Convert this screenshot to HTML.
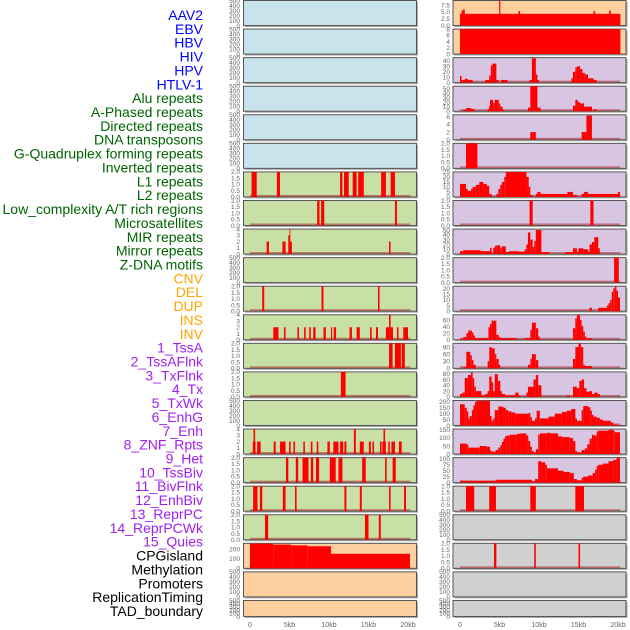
<!DOCTYPE html>
<html><head><meta charset="utf-8"><style>
html,body{margin:0;padding:0;background:#fff;}
svg{display:block;font-family:"Liberation Sans",sans-serif;}
</style></head><body>
<svg id="chart" width="630" height="630" viewBox="0 0 630 630"></svg>
<script>
const trackLabels = ["AAV2","EBV","HBV","HIV","HPV","HTLV-1","Alu repeats","A-Phased repeats","Directed repeats","DNA transposons","G-Quadruplex forming repeats","Inverted repeats","L1 repeats","L2 repeats","Low_complexity A/T rich regions","Microsatellites","MIR repeats","Mirror repeats","Z-DNA motifs","CNV","DEL","DUP","INS","INV","1_TssA","2_TssAFlnk","3_TxFlnk","4_Tx","5_TxWk","6_EnhG","7_Enh","8_ZNF_Rpts","9_Het","10_TssBiv","11_BivFlnk","12_EnhBiv","13_ReprPC","14_ReprPCWk","15_Quies","CPGisland","Methylation","Promoters","ReplicationTiming","TAD_boundary"];
const labelColors = ["#0000ff","#006400","#ffa500","#a020f0","#000000"];
const labelGroupCounts = [6,13,5,15,5];
const xTickValues = [0,5,10,15,20];
const xTickLabels = ["0","5kb","10kb","15kb","20kb"];
const emptyTicks = [0,100,200,300,400,500];
const binTicks = [0,0.5,1,1.5,2];
const tick4 = [0,1,2,3,4];

const L6 = [[0.2,0.85,2],[3.4,3.8,2],[11.4,11.7,2],[11.9,12.5,2],[13.0,13.5,2],[13.7,14.4,2],[16.6,17.2,2],[17.8,18.35,2]];
const L7 = [[8.5,8.8,2],[9.0,9.4,2],[18.35,18.6,2]];
const L8 = [[2.1,2.4,2],[4.1,4.5,2],[5.0,5.3,2],[4.85,5.0,3],[5.0,5.1,4],[17.6,17.8,2]];
const L10 = [[1.55,1.8,2],[9.05,9.3,2],[16.2,16.4,2]];
const L11 = [[2.95,3.6,2],[4.3,4.5,2],[6.0,6.2,2],[6.85,7.05,2],[7.5,7.7,2],[8.0,8.3,2],[9.3,9.6,2],[10.25,10.4,2],[10.6,10.9,2],[12.6,12.9,2],[13.5,13.9,2],[15.2,15.4,2],[15.95,16.2,2],[17.2,17.6,2],[17.6,17.8,4],[17.8,18.1,2],[18.6,18.8,2],[19.4,20.0,2]];
const L12 = [[17.6,18.05,2],[18.35,19.1,2],[19.2,19.6,2]];
const L13 = [[11.5,12.1,2]];
const L15 = [[0.35,0.7,2],[0.45,0.65,4],[0.9,1.35,2],[3.0,3.25,2],[3.8,4.5,2],[4.95,5.15,2],[5.5,5.7,2],[6.75,6.95,2],[7.7,7.9,2],[8.45,8.65,2],[9.8,10.1,2],[10.55,11.2,2],[11.4,11.8,2],[11.95,12.2,2],[13.15,13.4,4],[13.9,14.4,2],[15.05,15.3,2],[15.5,15.7,2],[16.45,16.65,2],[16.75,17.2,2],[16.9,17.1,4],[17.5,17.7,2],[17.9,18.35,2],[18.85,19.2,2]];
const L16 = [[4.55,4.85,2],[5.8,6.1,2],[6.65,7.4,2],[7.7,8.0,2],[8.35,8.75,2],[10.1,10.85,2],[11.2,11.7,2],[14.2,14.65,2],[17.1,17.3,2],[18.05,18.45,2]];
const L17 = [[0.4,0.95,2],[1.25,1.55,2],[4.15,4.5,2],[5.7,5.9,2],[11.95,12.2,2],[13.9,14.15,2],[17.6,17.8,2],[19.5,19.75,2]];
const L18 = [[1.9,2.3,2],[14.55,15.0,2],[16.3,16.55,2]];
const L19 = [[0,2.95,255],[2.95,5.2,245],[5.2,7.3,237],[7.3,10.25,228],[10.25,20.25,150]];

const R0 = [[0,20.3,4.3],[0.2,0.4,5.5],[0.4,0.6,6.0],[4.95,5.1,9.2],[7.4,7.6,5.3],[16.9,17.1,5.3],[18.9,19.1,5.5]];
const R1 = [[0,20.3,8]];
const R2 = [[0,0.2,12],[0.2,0.6,5],[0.6,1.0,7],[1.0,1.6,5],[3.2,3.7,5],[3.7,3.9,13],[3.9,4.1,32],[4.1,4.6,35],[4.6,4.9,5],[5.2,6.0,5],[8.8,9.1,5],[9.1,9.6,45],[9.6,9.8,15],[9.8,10.0,5],[14.1,14.3,8],[14.3,14.6,20],[14.6,14.8,28],[14.8,15.2,30],[15.2,15.5,25],[15.5,15.8,18],[15.8,16.2,15],[16.2,16.9,8],[16.9,17.3,5]];
const R3 = [[0.4,0.8,3],[0.8,1.4,7],[1.4,1.8,5],[3.5,3.7,5],[3.7,3.8,12],[3.8,4.2,25],[4.2,4.4,18],[4.4,4.9,25],[4.9,5.1,17],[5.1,5.4,10],[5.4,5.6,3],[8.6,8.9,8],[8.9,9.8,55],[9.8,10.2,8],[14.3,14.6,12],[14.6,14.9,25],[14.9,15.2,20],[15.2,15.7,17],[15.7,16.7,10],[16.9,17.3,4]];
const R4 = [[8.9,9.6,2],[15.4,16.0,2],[16.0,16.7,6.3]];
const R5 = [[0.76,2.2,2]];
const R6 = [[0,0.76,13],[0.76,0.97,8],[0.97,1.4,6],[1.4,1.6,8],[1.6,2.0,10],[2.0,2.45,12],[2.45,2.95,15],[2.95,3.4,13],[3.4,3.7,11],[3.7,4.0,3],[4.6,4.85,3],[4.85,5.1,8],[5.1,5.3,12],[5.3,5.6,15],[5.6,5.8,20],[5.8,8.4,25],[8.4,8.7,20],[8.7,8.9,10],[8.9,9.2,2],[9.6,9.8,3],[9.8,10.2,5],[10.2,13.6,3],[13.6,14.3,5],[14.3,14.8,2],[15.4,15.7,3],[15.7,16.2,5],[16.2,20.0,3],[20.0,20.25,5]];
const R7 = [[8.8,9.2,2],[16.5,16.9,2]];
const R8 = [[0,0.4,6],[0.4,2.6,8],[2.6,3.8,6],[3.8,4.0,13],[4.2,4.4,13],[4.4,4.6,17],[4.6,5.1,18],[5.1,5.3,12],[5.3,5.8,16],[5.8,6.2,4],[6.2,7.4,6],[7.4,8.2,5],[8.2,8.4,10],[8.4,8.6,20],[8.6,8.9,45],[8.9,9.2,30],[9.2,9.4,15],[9.4,9.6,27],[9.6,10.3,50],[10.3,11.3,4],[13.3,14.3,4],[14.3,14.8,12],[14.8,15.0,5],[15.0,15.6,12],[15.6,16.2,10],[16.2,16.4,5],[16.4,16.7,20],[16.7,17.0,25],[17.0,17.5,35],[17.5,17.7,12]];
const R9 = [[19.5,20.1,2]];
const R10 = [[16.4,16.7,3],[17.5,18.6,3],[18.6,18.8,5],[18.8,19.0,7],[19.0,19.2,10],[19.2,19.4,17],[19.4,19.6,20],[19.6,19.8,22],[19.8,20.0,18],[20.0,20.25,12]];
const R11 = [[0,0.4,3],[0.4,0.8,8],[0.8,1.05,20],[1.05,1.5,28],[1.5,1.7,22],[1.7,1.9,13],[1.9,3.6,5],[3.6,3.8,38],[3.8,4.0,48],[4.0,4.6,58],[4.6,4.9,15],[4.9,5.1,8],[5.1,7.2,5],[8.2,8.9,5],[8.9,9.1,30],[9.1,9.6,52],[9.6,9.9,35],[9.9,10.1,10],[14.3,14.6,35],[14.6,14.8,65],[14.8,15.2,75],[15.2,15.4,60],[15.4,15.6,42],[15.6,15.8,25],[15.8,16.0,10],[16.1,16.7,5]];
const R12 = [[0.4,0.8,5],[0.8,1.3,70],[1.3,1.5,55],[1.5,1.7,35],[1.7,2.0,15],[3.5,3.7,30],[3.7,4.0,90],[4.0,4.4,85],[4.4,4.6,60],[4.6,4.9,40],[4.9,5.1,15],[8.6,8.9,15],[8.9,9.1,40],[9.1,9.6,60],[9.6,9.9,35],[14.3,14.6,40],[14.6,15.0,90],[15.0,15.3,105],[15.3,15.6,90],[15.6,15.8,15],[15.8,16.7,10]];
const R13 = [[0,0.3,10],[0.3,0.6,15],[0.6,1.0,65],[1.0,1.4,75],[1.4,1.6,85],[1.6,1.8,65],[1.8,2.0,35],[2.0,2.7,20],[2.7,3.2,5],[3.2,3.5,10],[3.5,3.7,20],[3.7,4.0,70],[4.0,4.2,50],[4.2,4.4,20],[4.4,4.8,78],[4.8,5.1,55],[5.1,5.3,20],[5.3,5.7,10],[5.7,7.0,5],[7.0,7.4,15],[7.4,7.6,5],[8.4,8.6,15],[8.6,9.3,35],[9.3,9.6,60],[9.6,9.9,75],[9.9,10.3,40],[13.5,13.9,5],[14.3,14.8,35],[14.8,15.1,30],[15.1,15.4,55],[15.4,15.7,60],[15.7,16.0,30],[16.0,16.4,18],[16.4,16.7,20],[16.7,17.0,10],[17.0,17.4,15],[17.4,17.7,10]];
const R14 = [[0,0.6,180],[0.6,0.85,150],[0.85,1.05,120],[1.05,1.25,60],[1.25,1.5,80],[1.5,1.7,130],[1.7,1.9,170],[1.9,2.1,200],[2.1,3.8,210],[3.8,4.0,80],[4.0,4.2,40],[4.2,4.4,60],[4.4,4.85,130],[4.85,5.5,160],[5.5,5.8,150],[5.8,6.1,130],[6.1,6.5,120],[6.5,7.0,110],[7.0,8.65,100],[8.65,8.9,105],[8.9,9.1,70],[9.1,9.5,40],[9.5,9.7,60],[9.7,10.1,125],[10.1,11.2,60],[11.2,12.0,75],[12.0,12.9,100],[12.9,13.5,115],[13.5,14.1,125],[14.1,14.6,140],[14.6,14.8,60],[14.8,15.4,40],[15.4,15.6,130],[15.6,16.2,165],[16.2,16.5,155],[16.5,16.7,125],[16.7,16.9,90],[16.9,17.3,75],[17.3,17.7,65],[17.7,18.1,50],[18.1,19.1,40],[19.1,19.4,25],[19.4,19.8,10],[19.8,20.2,5]];
const R15 = [[0,0.85,65],[0.85,1.05,60],[1.05,2.5,40],[2.5,3.4,50],[3.4,3.8,45],[3.8,4.0,20],[4.0,4.5,15],[4.5,4.85,25],[4.85,5.1,40],[5.1,5.3,55],[5.3,5.5,75],[5.5,5.7,95],[5.7,5.9,110],[5.9,6.3,115],[6.3,7.2,120],[7.2,7.6,125],[7.6,8.4,128],[8.4,8.65,115],[8.65,8.9,80],[8.9,9.1,45],[9.1,9.3,20],[9.3,9.6,10],[9.6,9.9,30],[9.9,10.1,120],[10.1,11.0,128],[11.0,11.4,132],[11.4,12.4,128],[12.4,12.9,110],[12.9,13.9,105],[13.9,14.3,100],[14.3,14.6,80],[14.6,14.8,20],[14.8,15.4,10],[15.4,15.8,25],[15.8,16.1,35],[16.1,16.4,60],[16.4,16.7,95],[16.7,16.9,120],[16.9,17.3,115],[17.3,17.5,140],[17.5,18.8,145],[18.8,19.4,150],[19.4,19.6,145],[19.6,20.25,135]];
const R16 = [[0,4.6,8],[4.6,9.1,12],[9.1,9.5,5],[9.5,9.9,15],[9.9,10.3,90],[10.3,10.8,85],[10.8,11.0,75],[11.0,12.4,60],[12.4,13.1,50],[13.1,13.9,45],[13.9,14.4,40],[14.4,14.8,15],[14.8,15.4,10],[15.4,15.6,20],[15.6,16.2,25],[16.2,16.8,30],[16.8,17.1,40],[17.1,17.3,55],[17.3,17.5,70],[17.5,18.1,75],[18.1,18.8,80],[18.8,19.4,90],[19.4,19.8,95],[19.8,20.25,105]];
const R17 = [[0.76,1.8,2],[3.7,4.55,2],[8.9,9.6,2],[14.6,15.7,2]];
const R19 = [[4.3,4.6,2],[9.4,9.6,2],[15.0,15.2,2]];

const BLUE="#c8e3eb", GREEN="#c8e0a5", ORANGE="#ffd09f", PURPLE="#d7c5e2", GRAY="#d0d0d0";
const E=null;
const leftPanels = [
 [BLUE,E,500,emptyTicks,0],[BLUE,E,500,emptyTicks,0],[BLUE,E,500,emptyTicks,0],[BLUE,E,500,emptyTicks,0],[BLUE,E,500,emptyTicks,0],[BLUE,E,500,emptyTicks,0],
 [GREEN,L6,2,binTicks,1],[GREEN,L7,2,binTicks,1],[GREEN,L8,4,tick4,0],[GREEN,E,500,emptyTicks,0],[GREEN,L10,2,binTicks,1],[GREEN,L11,4,tick4,0],
 [GREEN,L12,2,binTicks,1],[GREEN,L13,2,binTicks,1],[GREEN,E,500,emptyTicks,0],[GREEN,L15,4,tick4,0],[GREEN,L16,2,binTicks,1],[GREEN,L17,2,binTicks,1],[GREEN,L18,2,binTicks,1],
 [ORANGE,L19,258,[0,100,200],0],[ORANGE,E,500,emptyTicks,0],[ORANGE,E,500,emptyTicks,0]
];
const rightPanels = [
 [ORANGE,R0,9.2,[0,2.5,5,7.5],1],[ORANGE,R1,8,[0,2,4,6,8],0],
 [PURPLE,R2,46,[0,10,20,30,40],0],[PURPLE,R3,55,[0,10,20,30,40,50],0],[PURPLE,R4,6.5,[0,2,4,6],0],[PURPLE,R5,2,binTicks,1],
 [PURPLE,R6,25,[0,5,10,15,20,25],0],[PURPLE,R7,2,binTicks,1],[PURPLE,R8,52,[0,10,20,30,40,50],0],[PURPLE,R9,2,binTicks,1],
 [PURPLE,R10,22,[0,5,10,15,20],0],[PURPLE,R11,76,[0,20,40,60],0],[PURPLE,R12,106,[0,30,60,90],0],[PURPLE,R13,86,[0,20,40,60,80],0],
 [PURPLE,R14,212,[0,50,100,150,200],0],[PURPLE,R15,155,[0,50,100,150],0],[PURPLE,R16,105,[0,25,50,75,100],0],
 [GRAY,R17,2,binTicks,1],[GRAY,E,500,emptyTicks,0],[GRAY,R19,2,binTicks,1],[GRAY,E,500,emptyTicks,0],[GRAY,E,500,emptyTicks,0]
];

const NS="http://www.w3.org/2000/svg";
const svg=document.getElementById('chart');
function mk(tag,attrs,parent){const el=document.createElementNS(NS,tag);for(const k in attrs)el.setAttribute(k,attrs[k]);(parent||svg).appendChild(el);return el;}

let li=0;
labelGroupCounts.forEach((cnt,g)=>{for(let j=0;j<cnt;j++){
  const t=mk('text',{x:203,y:20+13.86*li,'text-anchor':'end','font-size':14,fill:labelColors[g]});
  t.textContent=trackLabels[li];
  
  
  li++;}});

const PITCH=28.57, KB=7.9;
function drawColumn(panels,px0,px1,x0,tickX,colName){
  panels.forEach((p,i)=>{
    const top=0.5+PITCH*i, h=(i===21)?16:25, bot=top+h;
    const g=mk('g',{});
    
    
    mk('rect',{x:px0+1.5,y:top+1.5,width:px1-px0,height:h,fill:'#aaa'},g);
    mk('rect',{x:px0,y:top,width:px1-px0,height:h,fill:p[0],stroke:'#555','stroke-width':1},g);
    const ys=v=>bot-v/p[2]*h;
    if(p[1]){
      mk('rect',{x:x0,y:bot-2,width:20.3*KB,height:1.8,fill:'rgba(170,40,40,0.55)'},g);
      p[1].forEach(s=>{
        const r=mk('rect',{x:x0+s[0]*KB,y:ys(s[2]),width:Math.max(0.8,(s[1]-s[0])*KB),height:bot-ys(s[2]),fill:'#ff0000'},g);
        
        
      });
    }
    p[3].forEach(tv=>{
      const t=mk('text',{x:tickX,y:ys(tv)+2.3,'text-anchor':'end','font-size':6.5,fill:'#666'},g);
      t.textContent=tv.toFixed(p[4]);
      
      
    });
  });
  xTickValues.forEach((v,k)=>{
    const t=mk('text',{x:x0+v*KB,y:627,'text-anchor':'middle','font-size':7,fill:'#666'});
    t.textContent=xTickLabels[k];
    
    
  });
}
drawColumn(leftPanels,243.5,416.5,250,240,'left');
drawColumn(rightPanels,453,626,460,450,'right');
</script>
</body></html>
